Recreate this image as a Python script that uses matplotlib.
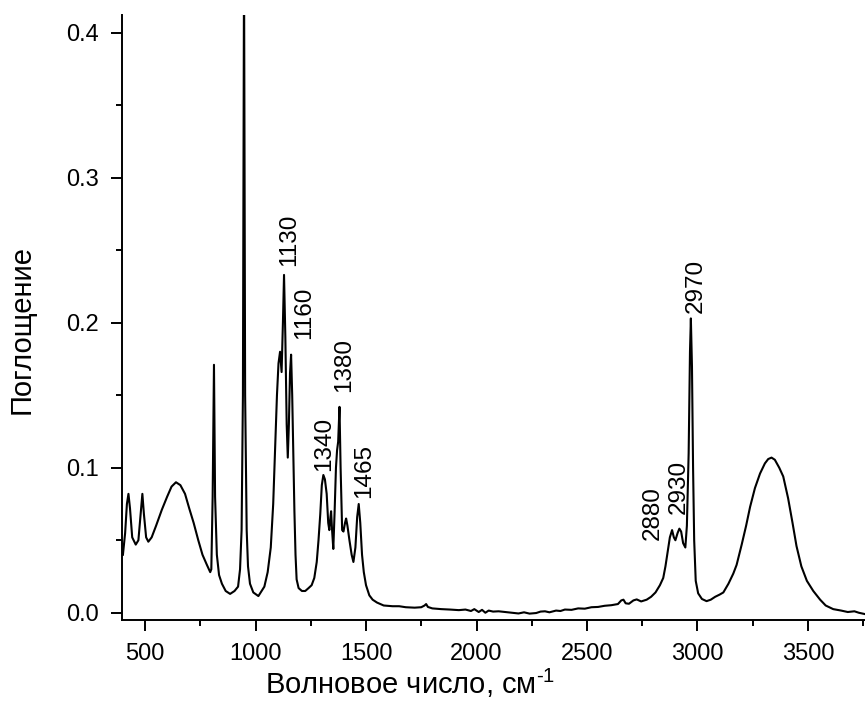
import matplotlib
matplotlib.use("Agg")
import matplotlib.pyplot as plt
from matplotlib.ticker import MultipleLocator

plt.rcParams['font.family'] = ['Liberation Sans', 'DejaVu Sans']
plt.rcParams['mathtext.fontset'] = 'custom'
plt.rcParams['mathtext.rm'] = 'Liberation Sans'
plt.rcParams['mathtext.it'] = 'Liberation Sans'

# IR spectrum (wavenumber, cm-1 / absorbance)
wavenumber = [
    400, 410, 418, 425, 432, 442, 458, 470, 480, 488, 495, 505, 515, 530, 550,
    576, 600, 620, 640, 660, 681, 700, 720, 741, 760, 780, 795, 800, 806, 812,
    817, 825, 835, 848, 865, 885, 905, 921, 930, 937, 943, 948, 953, 960, 966,
    975, 990, 1013, 1040, 1055, 1069, 1080, 1090, 1097, 1104, 1111, 1118, 1124,
    1129, 1135, 1141, 1146, 1151, 1156, 1161, 1166, 1171, 1176, 1181, 1186,
    1195, 1210, 1225, 1240, 1254, 1266, 1277, 1285, 1293, 1300, 1307, 1314,
    1322, 1329, 1334, 1339, 1342, 1346, 1352, 1358, 1364, 1369, 1374, 1380,
    1385, 1392, 1398, 1405, 1410, 1416, 1425, 1435, 1443, 1452, 1460, 1467,
    1474, 1482, 1490, 1500, 1515, 1530, 1550, 1580, 1620, 1650, 1680, 1720,
    1750, 1765, 1772, 1780, 1800, 1840, 1880, 1920, 1950, 1975, 1990, 2010,
    2025, 2040, 2055, 2075, 2100, 2130, 2160, 2190, 2215, 2240, 2270, 2290,
    2310, 2330, 2360, 2380, 2400, 2430, 2460, 2490, 2520, 2550, 2580, 2610,
    2640, 2655, 2665, 2675, 2690, 2710, 2725, 2745, 2770, 2790, 2810, 2830,
    2845, 2855, 2865, 2875, 2885, 2893, 2900, 2910, 2918, 2926, 2935, 2945,
    2952, 2960, 2966, 2970, 2975, 2980, 2985, 2992, 3003, 3020, 3041, 3060,
    3080, 3100, 3117, 3140, 3162, 3177, 3200, 3220, 3238, 3260, 3283, 3305,
    3320, 3335, 3350, 3370, 3388, 3410, 3430, 3448, 3470, 3495, 3524, 3555,
    3580, 3614, 3650, 3680, 3710, 3730, 3760,
]
absorbance = [
    0.040, 0.055, 0.075, 0.082, 0.072, 0.052, 0.047, 0.050, 0.068, 0.082,
    0.068, 0.052, 0.049, 0.052, 0.060, 0.071, 0.080, 0.087, 0.090, 0.088,
    0.082, 0.072, 0.062, 0.050, 0.040, 0.033, 0.028, 0.030, 0.080, 0.171,
    0.080, 0.040, 0.026, 0.020, 0.015, 0.013, 0.015, 0.018, 0.030, 0.057,
    0.150, 0.450, 0.150, 0.057, 0.032, 0.020, 0.014, 0.0115, 0.018, 0.028,
    0.045, 0.075, 0.120, 0.150, 0.172, 0.180, 0.166, 0.200, 0.233, 0.190,
    0.130, 0.107, 0.130, 0.165, 0.178, 0.150, 0.110, 0.070, 0.040, 0.023,
    0.017, 0.015, 0.015, 0.017, 0.019, 0.024, 0.035, 0.050, 0.068, 0.088,
    0.095, 0.092, 0.082, 0.062, 0.057, 0.066, 0.070, 0.058, 0.044, 0.070,
    0.100, 0.112, 0.118, 0.142, 0.100, 0.057, 0.056, 0.062, 0.065, 0.060,
    0.050, 0.040, 0.035, 0.045, 0.066, 0.075, 0.062, 0.040, 0.028, 0.019,
    0.012, 0.009, 0.007, 0.005, 0.0045, 0.0045, 0.0038, 0.0035, 0.0038,
    0.0050, 0.0060, 0.0040, 0.0030, 0.0025, 0.0022, 0.0018, 0.0022, 0.0012,
    0.0025, 0.0005, 0.0020, 0.0000, 0.0015, 0.0008, 0.0010, 0.0005, 0.0000,
    -0.0005, 0.0003, -0.0006, -0.0002, 0.0008, 0.0010, 0.0003, 0.0015,
    0.0012, 0.0022, 0.0020, 0.0030, 0.0028, 0.0038, 0.0040, 0.0048, 0.0052,
    0.0060, 0.0085, 0.0090, 0.0065, 0.0062, 0.0085, 0.0092, 0.0078, 0.0090,
    0.0110, 0.0140, 0.0190, 0.0240, 0.0320, 0.0420, 0.0520, 0.0570, 0.0520,
    0.0500, 0.0550, 0.0580, 0.0560, 0.0480, 0.0450, 0.0600, 0.1100, 0.1800,
    0.2030, 0.1700, 0.1000, 0.0500, 0.0220, 0.0134, 0.0095, 0.0080, 0.0090,
    0.0110, 0.0125, 0.0140, 0.0200, 0.0270, 0.0330, 0.0470, 0.0600, 0.0730,
    0.0860, 0.0960, 0.1030, 0.1060, 0.1070, 0.1055, 0.1000, 0.0940, 0.0790,
    0.0620, 0.0460, 0.0320, 0.0220, 0.0150, 0.0090, 0.0050, 0.0025, 0.0015,
    0.0005, 0.0010, 0.0000, -0.0010,
]

# peak labels
peak_labels = ['1130', '1160', '1340', '1380', '1465', '2880', '2930', '2970']
label_x = [1150, 1219, 1310, 1401, 1491, 2799, 2916, 2993]
label_y = [0.239, 0.189, 0.098, 0.152, 0.079, 0.050, 0.068, 0.207]

fig = plt.figure(figsize=(8.65, 7.18), dpi=100)
ax = fig.add_axes([0.1416, 0.1365, 0.8584, 0.8425])

ax.plot(wavenumber, absorbance, color='black', linewidth=1.5)

for txt, x, y in zip(peak_labels, label_x, label_y):
    ax.text(x, y, txt, rotation=90, ha='center', va='bottom', fontsize=17.5)

ax.set_xlim(398, 3758)
ax.set_ylim(-0.005, 0.4122)

ax.xaxis.set_major_locator(MultipleLocator(500))
ax.xaxis.set_minor_locator(MultipleLocator(250))
ax.yaxis.set_major_locator(MultipleLocator(0.1))
ax.yaxis.set_minor_locator(MultipleLocator(0.05))
ax.yaxis.set_major_formatter(plt.FormatStrFormatter('%.1f'))

for side in ['top', 'right']:
    ax.spines[side].set_visible(False)
for side in ['left', 'bottom']:
    ax.spines[side].set_linewidth(1.4)

ax.tick_params(which='major', direction='out', length=8, width=1.4,
               labelsize=17, pad=8.5)
ax.tick_params(axis='y', which='major', pad=9)
ax.tick_params(which='minor', direction='out', length=4, width=1.4)

# axis titles
fig.text(410 / 865, 1 - 683 / 718, 'Волновое число, см$^{\\text{-1}}$',
         fontsize=21, ha='center', va='center')
fig.text(22 / 865, 1 - 330 / 718, 'Поглощение', fontsize=21,
         rotation=90, ha='center', va='center')

fig.savefig('out.png', dpi=100)
